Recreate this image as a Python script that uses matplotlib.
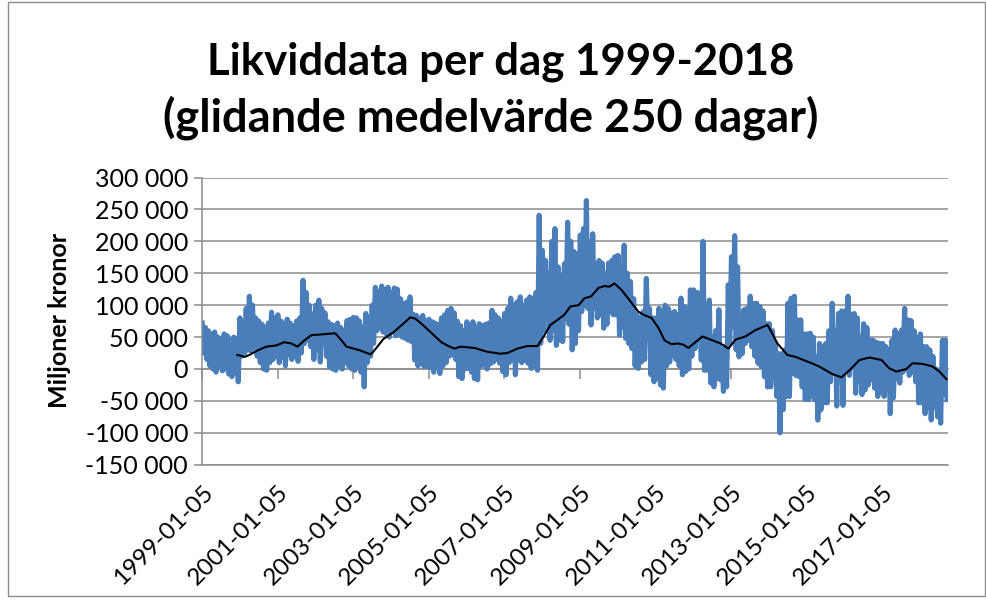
import matplotlib
matplotlib.use("Agg")
import matplotlib.pyplot as plt
import pandas as pd
from matplotlib.ticker import FuncFormatter
from matplotlib.patches import Rectangle

# ---- data (values in thousands of SEK millions) ----
# monthly high / low of daily series, Jan 1999 .. Sep 2018
blue_high_k = [
    72, 65, 60, 55, 58, 50, 48, 55, 52, 45, 50, 48,          # 1999
    80, 70, 95, 114, 100, 80, 75, 70, 65, 72, 89, 80,        # 2000
    85, 75, 70, 78, 72, 68, 75, 80, 139, 120, 100, 86,       # 2001
    100, 108, 95, 88, 74, 70, 68, 72, 65, 60, 76, 78,        # 2002
    81, 80, 75, 66, 87, 80, 100, 128, 122, 130, 125, 128,    # 2003
    120, 127, 125, 110, 102, 105, 113, 86, 84, 80, 84, 76,   # 2004
    78, 74, 72, 70, 80, 85, 92, 95, 88, 75, 68, 60,          # 2005
    74, 70, 74, 65, 71, 68, 70, 72, 92, 85, 80, 75,          # 2006
    87, 95, 111, 100, 105, 113, 100, 108, 113, 110, 120, 241,  # 2007
    186, 170, 150, 200, 220, 160, 147, 165, 230, 200, 184, 180,  # 2008
    210, 220, 264, 200, 212, 163, 170, 166, 150, 166, 170, 176,  # 2009
    178, 160, 194, 150, 137, 110, 85, 80, 90, 142, 95, 80,   # 2010
    80, 95, 90, 100, 95, 88, 90, 85, 111, 98, 95, 124,       # 2011
    124, 120, 119, 200, 100, 108, 50, 60, 93, 30, 35, 132,   # 2012
    176, 209, 160, 55, 93, 95, 114, 103, 103, 98, 91, 71,    # 2013
    71, 60, 40, 24, 24, 30, 103, 111, 114, 77, 77, 55,       # 2014
    55, 56, 50, 19, 40, 35, 40, 60, 103, 60, 87, 91,         # 2015
    91, 114, 86, 87, 80, 50, 71, 65, 45, 45, 42, 40,         # 2016
    40, 35, 30, 45, 61, 55, 61, 95, 77, 76, 60, 50,          # 2017
    55, 35, 35, 30, 20, 0, -2, 45, 45,                       # 2018
]
blue_low_k = [
    25, 15, 5, 0, -5, 5, -3, 0, -8, -12, -5, -20,            # 1999
    20, 25, 30, 28, 35, 20, 10, 0, -2, 10, 15, 20,           # 2000
    10, 18, 5, 22, 15, 20, 12, 25, 40, 45, 35, 15,           # 2001
    30, 11, 40, 20, 3, 0, -2, 5, 0, 10, 5, 0,                # 2002
    -2, 5, -5, -28, 10, 20, 40, 60, 65, 58, 55, 50,          # 2003
    58, 52, 55, 50, 48, 45, 43, 14, 5, 8, 4, 4,              # 2004
    2, -5, 5, -7, 5, 10, 20, 22, 15, -12, -15, 0,            # 2005
    1, -5, -15, -17, 5, 6, 0, 8, 11, 15, 9, -4,              # 2006
    -9, 10, 14, -9, 14, 10, 14, 9, 1, 5, -2, 40,             # 2007
    60, 80, 45, 60, 37, 45, 43, 80, 70, 30, 40, 60,          # 2008
    90, 100, 95, 69, 95, 80, 85, 64, 70, 90, 85, 85,         # 2009
    53, 65, 48, 40, 32, 5, 1, 11, 15, 58, -9, -20,           # 2010
    -15, -25, -30, 5, 11, 22, 15, 5, -9, -4, 0, 20,          # 2011
    32, 45, 14, -2, -2, -22, -28, -15, -17, -35, -28, 40,    # 2012
    66, 30, 19, 24, 40, 45, 35, 20, 9, 4, -12, -28,          # 2013
    -28, -12, -43, -100, -64, -43, -43, -7, -10, -12, -28, -48,  # 2014
    -48, -43, -48, -80, -64, -53, -53, -20, -5, -58, -20, -57,   # 2015
    0, -10, 4, -38, -20, -40, -33, -25, -17, -30, -43, -35,  # 2016
    -43, -30, -70, -45, -15, -22, -5, 0, -10, -5, -20, -53,  # 2017
    -53, -70, -60, -80, -60, -75, -85, -40, -48,             # 2018
]

# moving average (250 days)
ma_dates = [
    "1999-12-12", "2000-02-21", "2000-04-06", "2000-06-24", "2000-09-18", "2000-12-24",
    "2001-03-09", "2001-05-18", "2001-07-15", "2001-09-21", "2001-11-27", "2002-02-15",
    "2002-07-15", "2002-09-03", "2002-11-01", "2003-01-09", "2003-03-15", "2003-06-21",
    "2003-07-18", "2003-10-24", "2004-02-01", "2004-05-03", "2004-07-09", "2004-08-27",
    "2004-11-15", "2005-02-21", "2005-05-06", "2005-07-12", "2005-09-09", "2005-11-06",
    "2006-03-21", "2006-07-24", "2006-11-27", "2007-02-03", "2007-05-09", "2007-08-15",
    "2007-11-21", "2008-01-27", "2008-03-24", "2008-06-01", "2008-08-06", "2008-10-03",
    "2008-12-21", "2009-02-18", "2009-04-24", "2009-07-01", "2009-08-27", "2009-10-15",
    "2009-12-03", "2010-02-09", "2010-04-27", "2010-07-21", "2010-09-09", "2010-11-27",
    "2011-02-03", "2011-04-01", "2011-06-06", "2011-08-12", "2011-10-01", "2011-11-18",
    "2012-01-24", "2012-04-01", "2012-07-06", "2012-09-24", "2012-12-09", "2013-02-15",
    "2013-05-21", "2013-08-27", "2013-12-21", "2014-01-18", "2014-03-27", "2014-07-01",
    "2014-09-18", "2015-01-21", "2015-04-06", "2015-05-15", "2015-09-09", "2015-12-06",
    "2016-02-21", "2016-05-27", "2016-09-03", "2016-12-27", "2017-03-12", "2017-05-18",
    "2017-08-24", "2017-10-21", "2018-01-27", "2018-05-03", "2018-07-09", "2018-09-15",
]
ma_values_k = [
    22, 19, 22, 29, 35, 37,
    42, 40, 35, 45, 53, 54,
    56, 47, 35, 32, 29, 23,
    27, 47, 58, 71, 81, 79,
    68, 53, 42, 36, 32, 35,
    33, 27, 24, 25, 32, 36,
    36, 53, 69, 77, 85, 98,
    100, 111, 114, 127, 130, 129,
    134, 124, 108, 90, 85, 80,
    64, 45, 39, 40, 38, 33,
    42, 51, 45, 40, 32, 46,
    51, 61, 69, 61, 40, 22,
    19, 11, 6, 3, -8, -13,
    -2, 14, 18, 14, 1, -4,
    0, 9, 8, 4, -4, -16,
]

tick_labels = ["1999-01-05", "2001-01-05", "2003-01-05", "2005-01-05", "2007-01-05",
               "2009-01-05", "2011-01-05", "2013-01-05", "2015-01-05", "2017-01-05"]
y_ticks = [-150000, -100000, -50000, 0, 50000, 100000, 150000, 200000, 250000, 300000]

title = "Likviddata per dag 1999-2018\n(glidande medelvärde 250 dagar)"
ylabel = "Miljoner kronor"

# ---- build series ----
months = pd.date_range("1999-01-01", periods=len(blue_high_k), freq="MS")
x_blue, y_blue = [], []
for m, h, l in zip(months, blue_high_k, blue_low_k):
    x_blue.append(m + pd.Timedelta(days=6)); y_blue.append(h * 1000)
    x_blue.append(m + pd.Timedelta(days=20)); y_blue.append(l * 1000)
x_ma = pd.to_datetime(ma_dates)
y_ma = [v * 1000 for v in ma_values_k]

# ---- style ----
plt.rcParams['font.family'] = ['Lato', 'DejaVu Sans']
grid_c = '#8c8c8c'
blue_c = '#4a7ebb'

fig = plt.figure(figsize=(9.87, 6.02), dpi=100)
ax = fig.add_axes([202 / 987, 1 - 464.7 / 602, 746 / 987, 287.1 / 602])

ax.plot(x_blue, y_blue, color=blue_c, lw=3.7, solid_joinstyle='round', zorder=2)
ax.plot(x_ma, y_ma, color='black', lw=1.5, zorder=3)

ax.set_xlim(pd.Timestamp("1999-01-05"), pd.Timestamp("2018-09-30"))
ax.set_ylim(-150000, 300000)

ax.set_yticks(y_ticks)
ax.yaxis.set_major_formatter(FuncFormatter(lambda v, p: f"{int(v):,}".replace(",", " ")))
ax.tick_params(axis='y', length=6, width=1.1, color=grid_c, direction='out',
               labelsize=18, pad=4)
ax.yaxis.grid(True, color=grid_c, lw=1.1)
ax.set_axisbelow(True)

tick_dates = pd.to_datetime(tick_labels)
ax.set_xticks(tick_dates)
ax.set_xticklabels(tick_labels, rotation=45, ha='right', rotation_mode='anchor', fontsize=17.5)
ax.tick_params(axis='x', length=0, pad=12)

for s in ['top', 'right']:
    ax.spines[s].set_visible(False)
ax.spines['left'].set_color(grid_c)
ax.spines['left'].set_linewidth(1.1)
ax.spines['bottom'].set_color(grid_c)
ax.spines['bottom'].set_linewidth(1.1)

sec = ax.secondary_xaxis(0, transform=ax.transData)
sec.set_xticks(tick_dates)
sec.set_xticklabels([])
sec.tick_params(axis='x', length=7, width=1.1, color=grid_c, direction='out')
sec.spines['bottom'].set_color(grid_c)
sec.spines['bottom'].set_linewidth(1.1)

ax.set_ylabel(ylabel, fontsize=18, fontweight='bold')
ax.yaxis.set_label_coords(-0.175, 0.504)

l1, l2 = title.split("\n")
fig.text(0.507, 1 - 62 / 602, l1, ha='center', va='center', fontsize=31.5, fontweight='bold')
fig.text(0.497, 1 - 118 / 602, l2, ha='center', va='center', fontsize=32.5, fontweight='bold')

fig.patches.append(Rectangle((8 / 987, 6 / 602), 977 / 987, 594 / 602, transform=fig.transFigure,
                             fill=False, edgecolor=grid_c, lw=1.0))

fig.savefig("out.png", dpi=100)
